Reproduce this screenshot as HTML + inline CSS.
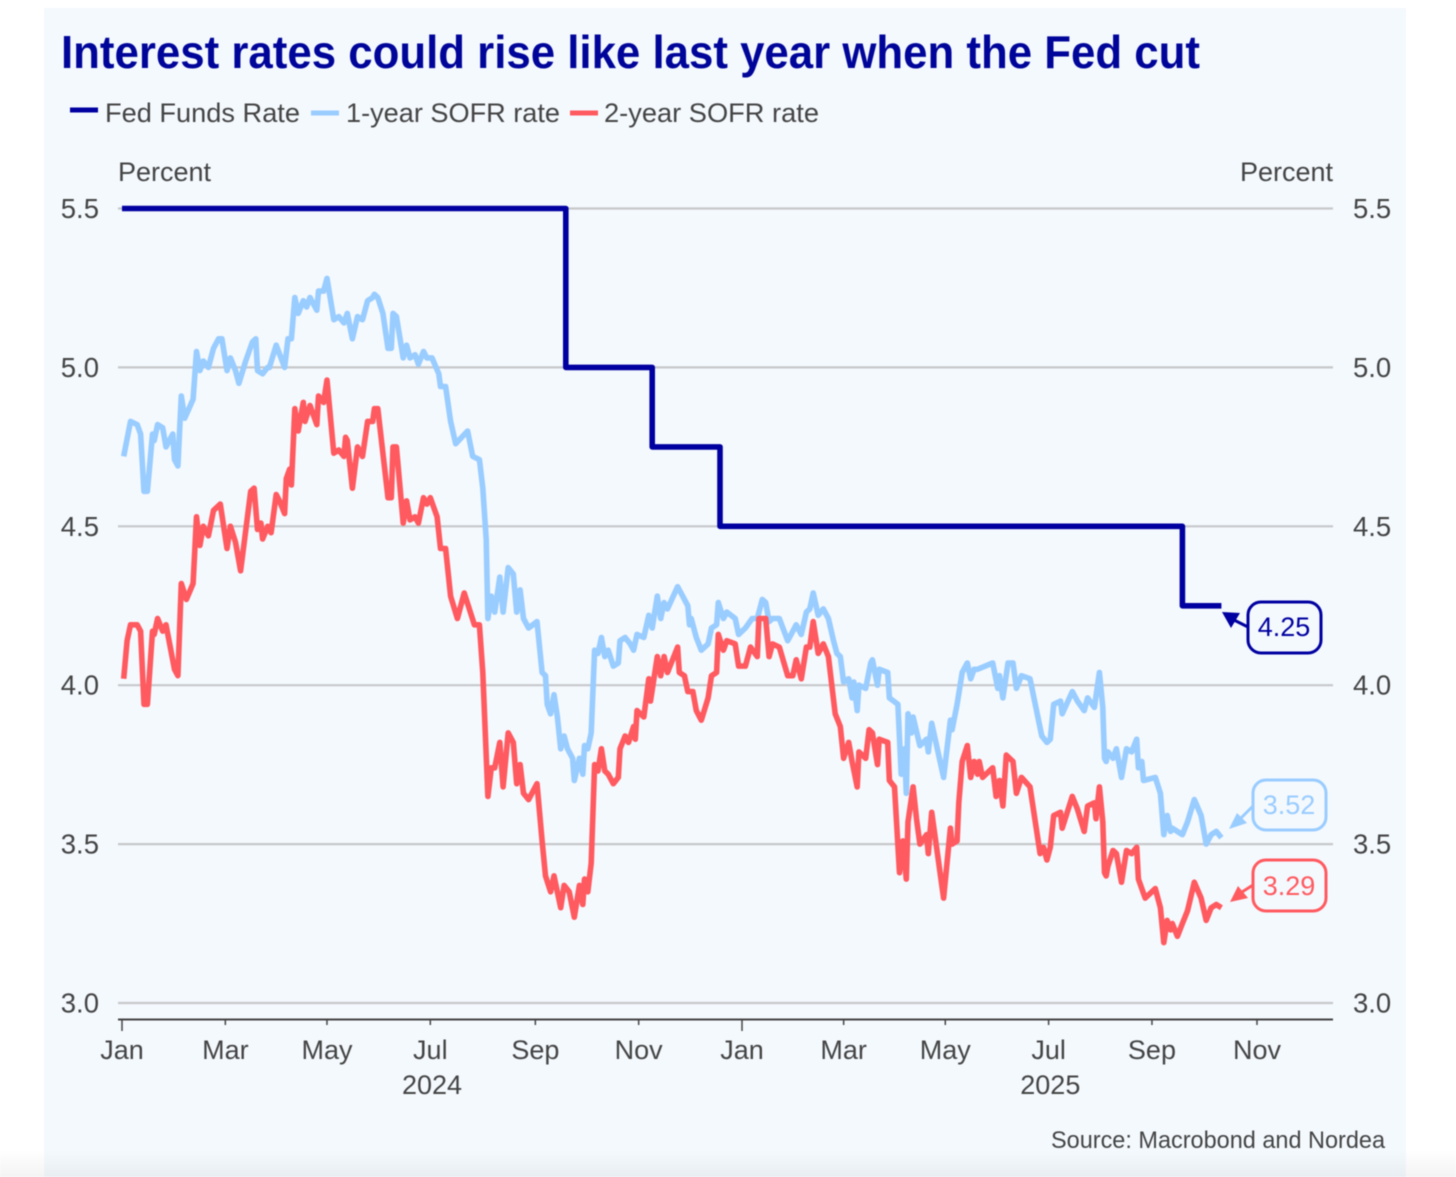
<!DOCTYPE html>
<html lang="en">
<head>
<meta charset="utf-8">
<title>Interest rates could rise like last year when the Fed cut</title>
<style>
html,body{margin:0;padding:0;background:#fff;}
body{width:1456px;height:1177px;overflow:hidden;}
svg{display:block;font-family:"Liberation Sans",Arial,sans-serif;filter:blur(0.55px);}
</style>
</head>
<body>
<svg id="chart" xmlns="http://www.w3.org/2000/svg" width="1456" height="1177" viewBox="0 0 1456 1177">
  <defs>
    <linearGradient id="fade" x1="0" y1="0" x2="0" y2="1">
      <stop offset="0" stop-color="#000" stop-opacity="0"/>
      <stop offset="1" stop-color="#000" stop-opacity="0.045"/>
    </linearGradient>
  </defs>
  <rect x="44" y="8" width="1362" height="1169" fill="#f4f9fe"/>
  <text x="61" y="68" font-size="46" font-weight="700" fill="#00059a" textLength="1139" lengthAdjust="spacingAndGlyphs">Interest rates could rise like last year when the Fed cut</text>

  <g font-size="27" fill="#444">
    <line x1="70" y1="110" x2="98" y2="110" stroke="#0000a0" stroke-width="5"/>
    <text x="105" y="122" textLength="195" lengthAdjust="spacingAndGlyphs">Fed Funds Rate</text>
    <line x1="311" y1="113" x2="339" y2="113" stroke="#99ccff" stroke-width="5"/>
    <text x="346" y="122" textLength="214" lengthAdjust="spacingAndGlyphs">1-year SOFR rate</text>
    <line x1="570" y1="113" x2="598" y2="113" stroke="#ff5a5f" stroke-width="5"/>
    <text x="604" y="122" textLength="215" lengthAdjust="spacingAndGlyphs">2-year SOFR rate</text>
  </g>

  <text x="118" y="181" font-size="27" fill="#444">Percent</text>
  <text x="1333" y="181" font-size="27" fill="#444" text-anchor="end">Percent</text>

  <g id="grid"></g>
  <g id="yLabels" font-size="27.5" fill="#444"></g>
  <g id="xAxis"></g>
  <g id="series" fill="none" stroke-width="5.6" stroke-linejoin="round"></g>

  <g>
    <rect x="1248" y="602" width="73" height="51" rx="13" fill="#f4f9fe" stroke="#0000a0" stroke-width="3"/>
    <polygon points="1222,612 1240,613 1231,628" fill="#0000a0"/>
    <line x1="1234" y1="620" x2="1248" y2="627" stroke="#0000a0" stroke-width="3"/>
    <text x="1284" y="636" font-size="27" fill="#0000a0" text-anchor="middle">4.25</text>
  </g>
  <g>
    <rect x="1253" y="780" width="73" height="50" rx="13" fill="#f4f9fe" stroke="#99ccff" stroke-width="3"/>
    <polygon points="1229,829 1247,823 1237,813" fill="#99ccff"/>
    <line x1="1241" y1="818" x2="1253" y2="806" stroke="#99ccff" stroke-width="3"/>
    <text x="1289" y="814" font-size="27" fill="#99ccff" text-anchor="middle">3.52</text>
  </g>
  <g>
    <rect x="1253" y="860" width="73" height="51" rx="13" fill="#f4f9fe" stroke="#ff5a5f" stroke-width="3"/>
    <polygon points="1230,902 1248,898 1238,886" fill="#ff5a5f"/>
    <line x1="1242" y1="892" x2="1253" y2="885" stroke="#ff5a5f" stroke-width="3"/>
    <text x="1289" y="895" font-size="27" fill="#ff5a5f" text-anchor="middle">3.29</text>
  </g>

  <text x="1051" y="1148" font-size="24" fill="#444" textLength="334" lengthAdjust="spacingAndGlyphs">Source: Macrobond and Nordea</text>
  <rect x="0" y="1150" width="1456" height="27" fill="url(#fade)"/>
</svg>
<script>
// Chart data: days counted from 1 Jan 2024, values in percent.
var yTicks = [3.0, 3.5, 4.0, 4.5, 5.0, 5.5];
var monthLabels = ["Jan","Mar","May","Jul","Sep","Nov","Jan","Mar","May","Jul","Sep","Nov"];
var monthDays = [0,61,121,182,244,305,366,426,486,547,608,670];
var yearLabels = ["2024","2025"];
var yearLabelDays = [183,548];

var fedDays = [0,262,313,353,626,649];
var fedValues = [5.5,5.0,4.75,4.5,4.25,4.25];

var sofr1Days = [1,5,9,11,13,15,18,19,21,24,26,30,31,33,35,37,42,44,46,48,51,54,57,59,62,64,67,69,73,77,79,80,83,86,87,91,96,98,100,102,104,107,109,111,115,116,119,121,125,128,131,133,136,139,142,145,148,149,151,154,157,159,160,162,166,168,170,173,175,178,180,183,187,188,191,194,197,204,207,211,213,215,216,218,220,223,225,228,231,233,235,237,240,245,248,250,251,253,255,257,259,261,263,266,267,270,272,273,275,277,279,281,283,285,287,290,293,294,297,300,302,304,308,311,313,316,318,320,322,328,331,334,335,336,339,342,346,348,351,352,355,357,362,364,368,372,375,378,380,382,384,388,393,395,398,401,404,406,408,411,414,417,420,422,424,426,429,431,432,434,435,439,442,443,446,447,452,453,458,460,462,463,464,466,467,471,475,476,478,485,489,490,493,496,499,501,503,505,514,517,518,520,523,526,528,531,536,543,546,548,550,554,555,561,564,568,570,574,577,579,580,581,582,585,587,590,593,596,599,600,602,603,610,613,615,617,619,620,626,629,633,637,640,643,646,649];
var sofr1Values = [4.72,4.83,4.82,4.79,4.61,4.61,4.79,4.77,4.82,4.81,4.75,4.79,4.71,4.69,4.91,4.84,4.90,5.05,4.99,5.02,5.00,5.06,5.09,5.09,4.99,5.03,4.99,4.95,5.02,5.08,5.09,4.99,4.98,5.00,5.00,5.07,5.00,5.09,5.09,5.22,5.17,5.21,5.19,5.22,5.18,5.24,5.24,5.28,5.15,5.16,5.14,5.17,5.09,5.16,5.15,5.21,5.22,5.23,5.22,5.17,5.06,5.06,5.17,5.16,5.03,5.07,5.03,5.04,5.01,5.05,5.03,5.03,4.98,4.94,4.94,4.83,4.76,4.80,4.72,4.71,4.62,4.46,4.21,4.28,4.23,4.34,4.23,4.37,4.35,4.23,4.30,4.21,4.18,4.20,4.04,4.03,3.94,3.91,3.97,3.90,3.80,3.84,3.80,3.77,3.70,3.77,3.72,3.81,3.80,3.85,4.11,4.10,4.15,4.09,4.11,4.06,4.07,4.14,4.15,4.13,4.11,4.16,4.15,4.22,4.18,4.28,4.21,4.26,4.24,4.31,4.28,4.25,4.19,4.21,4.15,4.11,4.13,4.18,4.19,4.26,4.21,4.23,4.21,4.16,4.18,4.21,4.21,4.27,4.26,4.20,4.21,4.21,4.14,4.16,4.19,4.16,4.23,4.24,4.29,4.22,4.24,4.21,4.14,4.10,4.09,4.01,4.02,3.96,4.01,3.92,4.00,3.99,4.07,4.08,4.00,4.05,4.04,3.96,3.94,3.72,3.80,3.66,3.91,3.85,3.90,3.81,3.83,3.79,3.88,3.71,3.89,3.86,3.94,4.04,4.07,4.02,4.05,4.05,4.07,3.99,4.03,3.96,4.07,4.07,3.99,4.03,4.02,3.84,3.82,3.83,3.94,3.95,3.91,3.98,3.95,3.92,3.96,3.93,4.04,3.93,3.77,3.76,3.79,3.77,3.80,3.71,3.80,3.79,3.83,3.74,3.76,3.70,3.71,3.66,3.53,3.59,3.54,3.55,3.53,3.57,3.64,3.59,3.50,3.53,3.54,3.52];

var sofr2Days = [1,3,5,9,11,13,15,18,19,21,24,26,31,33,35,38,42,44,46,48,51,54,58,62,64,67,70,76,78,80,82,83,86,88,91,93,96,97,99,100,102,104,107,108,111,115,116,119,121,125,128,131,132,133,136,139,142,145,148,149,151,157,159,160,162,166,168,170,173,175,178,180,182,186,188,191,194,198,202,208,211,213,216,218,220,223,225,228,231,233,235,237,240,245,248,250,253,255,259,261,264,267,270,272,273,275,277,279,281,283,285,287,290,293,294,297,299,302,303,304,308,311,312,316,318,320,322,328,329,332,334,337,339,342,346,348,351,352,355,357,362,364,368,371,375,376,380,382,384,388,393,396,398,401,404,406,408,411,414,417,421,424,426,429,431,434,435,439,441,443,446,447,452,453,456,459,461,463,464,467,469,471,475,476,478,485,489,490,493,494,496,499,501,503,505,506,508,514,516,518,520,522,526,528,531,536,542,544,546,548,550,554,555,561,564,568,570,574,575,577,579,580,581,582,585,587,590,593,596,599,600,604,610,613,615,617,619,620,623,626,629,633,637,640,643,646,649];
var sofr2Values = [4.02,4.14,4.19,4.19,4.17,3.94,3.94,4.17,4.16,4.21,4.17,4.19,4.05,4.03,4.32,4.27,4.32,4.53,4.44,4.50,4.47,4.55,4.57,4.43,4.50,4.45,4.36,4.61,4.62,4.49,4.51,4.46,4.50,4.48,4.60,4.58,4.54,4.65,4.68,4.63,4.87,4.80,4.89,4.83,4.88,4.82,4.91,4.89,4.96,4.73,4.74,4.72,4.78,4.77,4.62,4.75,4.72,4.83,4.83,4.87,4.87,4.59,4.59,4.75,4.75,4.51,4.58,4.52,4.53,4.51,4.59,4.57,4.59,4.53,4.43,4.43,4.28,4.21,4.29,4.19,4.19,4.04,3.65,3.74,3.74,3.82,3.68,3.85,3.82,3.69,3.75,3.66,3.64,3.69,3.51,3.40,3.35,3.40,3.30,3.37,3.35,3.27,3.37,3.31,3.39,3.35,3.44,3.75,3.73,3.80,3.73,3.72,3.69,3.71,3.80,3.84,3.82,3.87,3.83,3.92,3.90,4.02,3.95,4.09,4.03,4.09,4.04,4.12,4.04,4.03,3.98,3.98,3.92,3.89,3.96,4.03,4.04,4.16,4.11,4.14,4.13,4.06,4.06,4.12,4.09,4.21,4.21,4.09,4.13,4.12,4.03,4.03,4.08,4.02,4.12,4.12,4.20,4.10,4.13,4.09,3.91,3.87,3.77,3.82,3.76,3.68,3.79,3.77,3.86,3.85,3.75,3.83,3.82,3.70,3.68,3.41,3.51,3.39,3.57,3.68,3.58,3.50,3.53,3.47,3.60,3.33,3.55,3.50,3.51,3.63,3.76,3.81,3.71,3.76,3.72,3.76,3.71,3.74,3.65,3.70,3.62,3.78,3.76,3.66,3.71,3.68,3.47,3.49,3.45,3.49,3.59,3.60,3.55,3.65,3.61,3.54,3.62,3.63,3.58,3.68,3.57,3.41,3.40,3.43,3.48,3.47,3.38,3.48,3.47,3.49,3.39,3.33,3.36,3.30,3.19,3.26,3.23,3.25,3.21,3.25,3.29,3.38,3.33,3.26,3.30,3.31,3.30];

var SVGNS = "http://www.w3.org/2000/svg";
function xScale(day){ return 122 + day * 1.694; }
function yScale(v){ return 1003 - (v - 3) * 317.8; }
function make(tag, attrs){
  var el = document.createElementNS(SVGNS, tag);
  for (var k in attrs) el.setAttribute(k, attrs[k]);
  return el;
}

var gridG = document.getElementById("grid");
var yG = document.getElementById("yLabels");
yTicks.forEach(function(v){
  var y = yScale(v);
  var line = make("line", {x1:118, x2:1333, y1:y, y2:y, stroke:"#c6c8ca", "stroke-width":2.2});
  
  
  gridG.appendChild(line);
  var left = make("text", {x:99, y:y + 9.5, "text-anchor":"end"});
  
  
  left.textContent = v.toFixed(1);
  yG.appendChild(left);
  var right = make("text", {x:1353, y:y + 9.5});
  
  
  right.textContent = v.toFixed(1);
  yG.appendChild(right);
});

var xG = document.getElementById("xAxis");
var axisLine = make("line", {x1:118, x2:1333, y1:1019.5, y2:1019.5, stroke:"#444", "stroke-width":2});


xG.appendChild(axisLine);
monthDays.forEach(function(day, i){
  var x = xScale(day);
  var isYearStart = monthLabels[i] === "Jan";
  var tick = make("line", {x1:x, x2:x, y1:1019.5, y2:isYearStart ? 1031 : 1025, stroke:"#444", "stroke-width":1.5});
  
  
  xG.appendChild(tick);
  var label = make("text", {x:x, y:1059, "text-anchor":"middle", "font-size":27, fill:"#444"});
  
  
  label.textContent = monthLabels[i];
  xG.appendChild(label);
});
yearLabels.forEach(function(year, i){
  var label = make("text", {x:xScale(yearLabelDays[i]), y:1094, "text-anchor":"middle", "font-size":27, fill:"#444"});
  
  
  label.textContent = year;
  xG.appendChild(label);
});

function linePath(days, values){
  return days.map(function(d, i){
    return (i ? "L" : "M") + xScale(d).toFixed(1) + " " + yScale(values[i]).toFixed(1);
  }).join("");
}
function stepPath(days, values){
  var p = "M" + xScale(days[0]).toFixed(1) + " " + yScale(values[0]).toFixed(1);
  for (var i = 1; i < days.length; i++){
    p += "L" + xScale(days[i]).toFixed(1) + " " + yScale(values[i - 1]).toFixed(1);
    p += "L" + xScale(days[i]).toFixed(1) + " " + yScale(values[i]).toFixed(1);
  }
  return p;
}
var seriesG = document.getElementById("series");
var fedLine = make("path", {d:stepPath(fedDays, fedValues), stroke:"#0000a0"});


seriesG.appendChild(fedLine);
var sofr1Line = make("path", {d:linePath(sofr1Days, sofr1Values), stroke:"#99ccff"});


seriesG.appendChild(sofr1Line);
var sofr2Line = make("path", {d:linePath(sofr2Days, sofr2Values), stroke:"#ff5a5f"});


seriesG.appendChild(sofr2Line);
</script>
</body>
</html>
